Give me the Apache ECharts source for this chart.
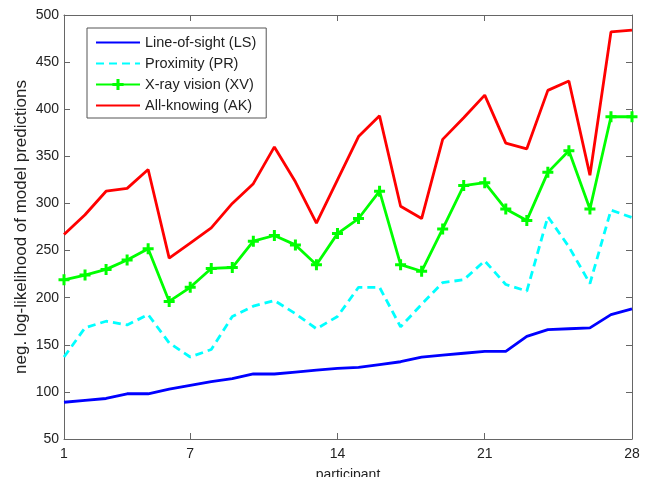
<!DOCTYPE html>
<html>
<head>
<meta charset="utf-8">
<script src="https://cdn.jsdelivr.net/npm/echarts@6/dist/echarts.min.js"></script>
<style>
html,body{margin:0;padding:0;background:#fff;}
#chart{width:650px;height:477px;}
</style>
</head>
<body>
<div id="chart"></div>
<script>
// participants 1..28
var participants = [1,2,3,4,5,6,7,8,9,10,11,12,13,14,15,16,17,18,19,20,21,22,23,24,25,26,27,28];
var xTicks = [1, 7, 14, 21, 28];

var lineOfSight = [89,91,93,98,98,103,107,111,114,119,119,121,123,125,126,129,132,137,139,141,143,143,159,166,167,168,182,188];
var proximity   = [137,168,175,171,182,152,137,145,180,191,197,183,167,180,211,211,169,193,216,219,239,214,207,286,254,215,293,285];
var xrayVision  = [219,224,230,240,252,196,211,231,232,260,266,256,235,268,284,313,235,228,273,319,322,294,282,333,356,294,392,392];
var allKnowing  = [267,288,313,316,336,242,258,274,300,321,360,323,279,325,371,393,297,284,368,391,415,364,358,420,430,330,482,484];

function pairs(vals){
        return vals.map(function(v, i){ return [participants[i], v]; });
}

var myChart = echarts.init(document.getElementById('chart'));
var font = 'Liberation Sans, Arial, sans-serif';
var plus = 'path://M4,0h3v4h4v3h-4v4h-3v-4h-4v-3h4z';
var noMark = {opacity: 0};

option = {
        animation: false,
        textStyle: {fontFamily: font},
        grid: {left: 64, right: 18, top: 15, bottom: 38, show: false, outerBoundsMode: 'none', containLabel: false},
        legend: {
                orient: 'vertical',
                left: 87, top: 28,
                padding: [7, 10, 5, 8],
                itemWidth: 44, itemHeight: 14, itemGap: 6,
                borderColor: '#555', borderWidth: 1,
                backgroundColor: '#fff',
                textStyle: {fontFamily: font, fontSize: 14.5, color: '#222'},
                data: [
                        {name: 'Line-of-sight (LS)', itemStyle: noMark},
                        {name: 'Proximity (PR)', itemStyle: noMark},
                        {name: 'X-ray vision (XV)'},
                        {name: 'All-knowing (AK)', itemStyle: noMark}
                ]
        },
        xAxis: [
                {
                        type: 'value', min: 1, max: 28,
                        name: 'participant', nameLocation: 'middle', nameGap: 29, nameMoveOverlap: false,
                        nameTextStyle: {fontSize: 14, color: '#222'},
                        axisLine: {lineStyle: {color: '#666'}},
                        splitLine: {show: false},
                        axisTick: {inside: true, length: 6, customValues: xTicks, lineStyle: {color: '#666'}},
                        axisLabel: {customValues: xTicks, fontSize: 14, color: '#222', margin: 8}
                },
                {
                        type: 'value', min: 1, max: 28, position: 'top',
                        axisLine: {lineStyle: {color: '#666'}},
                        splitLine: {show: false},
                        axisTick: {inside: true, length: 6, customValues: xTicks, lineStyle: {color: '#666'}},
                        axisLabel: {show: false}
                }
        ],
        yAxis: [
                {
                        type: 'value', min: 50, max: 500, interval: 50,
                        name: 'neg. log-likelihood of model predictions',
                        nameLocation: 'middle', nameGap: 34, nameMoveOverlap: false,
                        nameTextStyle: {fontSize: 17, color: '#222'},
                        axisLine: {show: true, lineStyle: {color: '#666'}},
                        splitLine: {show: false},
                        axisTick: {inside: true, length: 6, lineStyle: {color: '#666'}},
                        axisLabel: {fontSize: 14, color: '#222', margin: 5}
                },
                {
                        type: 'value', min: 50, max: 500, interval: 50, position: 'right',
                        axisLine: {show: true, lineStyle: {color: '#666'}},
                        splitLine: {show: false},
                        axisTick: {inside: true, length: 6, lineStyle: {color: '#666'}},
                        axisLabel: {show: false}
                }
        ],
        series: [
                {
                        name: 'Line-of-sight (LS)', type: 'line', showSymbol: false,
                        lineStyle: {color: '#0000ff', width: 2.8}, itemStyle: {color: '#0000ff'},
                        data: pairs(lineOfSight)
                },
                {
                        name: 'Proximity (PR)', type: 'line', showSymbol: false,
                        lineStyle: {color: '#00ffff', width: 2.8, type: [8, 5]}, itemStyle: {color: '#00ffff'},
                        data: pairs(proximity)
                },
                {
                        name: 'X-ray vision (XV)', type: 'line', symbol: plus, symbolSize: 11,
                        lineStyle: {color: '#00ff00', width: 2.8}, itemStyle: {color: '#00ff00'},
                        data: pairs(xrayVision)
                },
                {
                        name: 'All-knowing (AK)', type: 'line', showSymbol: false,
                        lineStyle: {color: '#ff0000', width: 2.8}, itemStyle: {color: '#ff0000'},
                        data: pairs(allKnowing)
                }
        ]
};
myChart.setOption(option);
</script>
</body>
</html>
